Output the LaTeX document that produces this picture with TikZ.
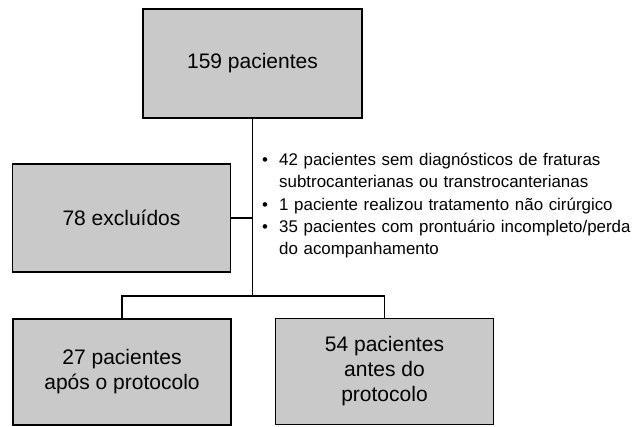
\documentclass[tikz,border=0pt]{standalone}
\usepackage{fontspec}
\setmainfont{Liberation Sans}
\usetikzlibrary{positioning,calc}
\definecolor{cinza}{RGB}{201,201,201}
\newcommand{\itemmotivo}[1]{\par\hangindent=17pt\hangafter=1\noindent\makebox[17pt][l]{\textbullet}#1\par}

\begin{document}
\begin{tikzpicture}[x=1pt, y=-1pt,
    caixa/.style={draw, line width=1.6pt, fill=cinza, minimum width=218pt, minimum height=108pt,
        align=center, inner sep=0pt, font=\fontsize{21}{25}\selectfont},
    ligacao/.style={line width=1.6pt}]
    \useasboundingbox (0,0) rectangle (637,427);

    % Caixas
    \node[caixa, minimum width=219pt, minimum height=109pt] (total) at (252.5,63.5) {159 pacientes};
    \node[caixa] (excluidos) at (121.5,218) {78 excluídos};
    \node[caixa, minimum height=106pt] (apos) at (122,372) {27 pacientes\\após o protocolo};
    \node[caixa, minimum height=106pt] (antes) at (384.5,371.5) {54 pacientes\\antes do\\protocolo};

    % Motivos de exclusao
    \node[anchor=north west, inner sep=0pt, text width=372pt, align=left,
        font=\fontsize{16.9}{22}\selectfont] (motivos) at (262,143) {%
        \setlength{\parskip}{0.6pt}%
        \itemmotivo{42 pacientes sem diagnósticos de fraturas\newline subtrocanterianas ou transtrocanterianas}%
        \itemmotivo{1 paciente realizou tratamento não cirúrgico}%
        \itemmotivo{35 pacientes com prontuário incompleto/perda\newline do acompanhamento}};

    % Ligacoes
    \coordinate (divisao) at (total.south |- 0,296);
    \draw[ligacao] (total.south) -- (divisao);
    \draw[ligacao] (excluidos.east) -- (excluidos.east -| total.south);
    \draw[ligacao] (apos.north) |- (divisao) -| (antes.north);
\end{tikzpicture}
\end{document}
